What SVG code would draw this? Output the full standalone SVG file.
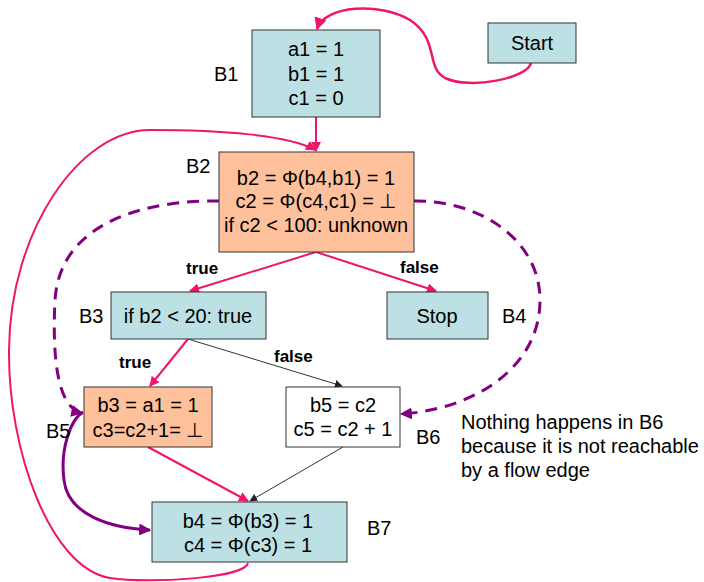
<svg xmlns="http://www.w3.org/2000/svg" width="704" height="582" viewBox="0 0 704 582">
<style>
.n{font-family:"Liberation Sans",Arial,sans-serif;font-size:20px;fill:#000;text-anchor:middle}
.l{font-family:"Liberation Sans",Arial,sans-serif;font-size:20px;fill:#000}
.b{font-family:"Liberation Sans",Arial,sans-serif;font-size:17px;font-weight:bold;fill:#000}
.blue{fill:#bce0e3;stroke:#333;stroke-width:1}
.org{fill:#ffc19b;stroke:#333;stroke-width:1}
.wht{fill:#fff;stroke:#333;stroke-width:1}
.pk{fill:none;stroke:#f0146c;stroke-width:2}
.bk{fill:none;stroke:#333;stroke-width:1}
.pd{fill:none;stroke:#800080;stroke-width:3;stroke-dasharray:12 8}
.ps{fill:none;stroke:#800080;stroke-width:3}
</style>
<defs>
<marker id="ap" viewBox="0 0 10 10" refX="9" refY="5" markerWidth="5" markerHeight="5" orient="auto" markerUnits="strokeWidth"><path d="M0,0 L10,5 L0,10 z" fill="#f0146c"/></marker>
<marker id="ab" viewBox="0 0 10 10" refX="9" refY="5" markerWidth="8" markerHeight="8" orient="auto" markerUnits="strokeWidth"><path d="M0,0 L10,5 L0,10 z" fill="#222"/></marker>
<marker id="au" viewBox="0 0 10 10" refX="9" refY="5" markerWidth="4" markerHeight="4" orient="auto" markerUnits="strokeWidth"><path d="M0,0 L10,5 L0,10 z" fill="#800080"/></marker>
</defs>
<g id="connectors">
<path class="pk" style="stroke-width:2.5" d="M531,63 C528,78 470,90 445,78 C425,67 440,40 410,20 C380,2 325,5 317,29" marker-end="url(#ap)"/>
<path class="pk" d="M316,117 L316,151" marker-end="url(#ap)"/>
<path class="pk" d="M248,563 C245,578 150,584 110,578 C50,568 8,450 9,350 C10,230 80,130 150,130 C220,130 290,135 315,150" marker-end="url(#ap)"/>
<path class="pk" d="M316,252 L190,291" marker-end="url(#ap)"/>
<path class="pk" d="M316,252 L436,291" marker-end="url(#ap)"/>
<path class="pk" d="M188,339 L150,386" marker-end="url(#ap)"/>
<path class="bk" d="M188,339 L342,386" marker-end="url(#ab)"/>
<path class="pk" d="M148,447 L248,501" marker-end="url(#ap)"/>
<path class="bk" d="M343,447 L250,501" marker-end="url(#ab)"/>
<path class="pd" d="M219,201 C150,200 60,220 55,300 C52,360 58,408 82,413" marker-end="url(#au)"/>
<path class="pd" d="M414,201 C480,200 540,240 540,300 C540,370 470,410 401,414" marker-end="url(#au)"/>
<path class="ps" d="M83,412 C70,420 60,450 64,480 C68,515 110,528 150,530" marker-end="url(#au)"/>
</g>
<g id="start"><rect class="blue" x="488" y="23" width="88" height="40"/><text class="n" x="532" y="50">Start</text></g>
<g id="B1"><rect class="blue" x="252" y="30" width="128" height="87"/>
<text class="n" x="316" y="56">a1 = 1</text><text class="n" x="316" y="81">b1 = 1</text><text class="n" x="316" y="105">c1 = 0</text>
<text class="l" x="214" y="81">B1</text></g>
<g id="B2"><rect class="org" x="219" y="152" width="195" height="100"/>
<text class="n" x="316" y="185">b2 = Φ(b4,b1) = 1</text><text class="n" x="316" y="208">c2 = Φ(c4,c1) = ⊥</text><text class="n" x="316" y="232">if c2 &lt; 100: unknown</text>
<text class="l" x="186" y="173">B2</text></g>
<g id="B3"><rect class="blue" x="111" y="292" width="155" height="47"/><text class="n" x="188" y="323">if b2 &lt; 20: true</text><text class="l" x="79" y="323">B3</text></g>
<g id="B4"><rect class="blue" x="387" y="292" width="101" height="47"/><text class="n" x="437" y="323">Stop</text><text class="l" x="502" y="323">B4</text></g>
<g id="B5"><rect class="org" x="84" y="387" width="128" height="60"/>
<text class="n" x="148" y="412">b3 = a1 = 1</text><text class="n" x="148" y="437">c3=c2+1= ⊥</text><text class="l" x="46" y="438">B5</text></g>
<g id="B6"><rect class="wht" x="286" y="387" width="114" height="60"/>
<text class="n" x="343" y="412">b5 = c2</text><text class="n" x="343" y="436">c5 = c2 + 1</text><text class="l" x="416" y="444">B6</text></g>
<g id="B7"><rect class="blue" x="152" y="502" width="195" height="60"/>
<text class="n" x="248" y="528">b4 = Φ(b3) = 1</text><text class="n" x="248" y="552">c4 = Φ(c3) = 1</text><text class="l" x="367" y="535">B7</text></g>
<g id="labels">
<text class="b" x="186" y="274">true</text>
<text class="b" x="400" y="273">false</text>
<text class="b" x="119" y="368">true</text>
<text class="b" x="274" y="362">false</text>
<text class="l" x="461" y="429">Nothing happens in B6</text>
<text class="l" x="461" y="453">because it is not reachable</text>
<text class="l" x="461" y="477">by a flow edge</text>
</g>
</svg>
